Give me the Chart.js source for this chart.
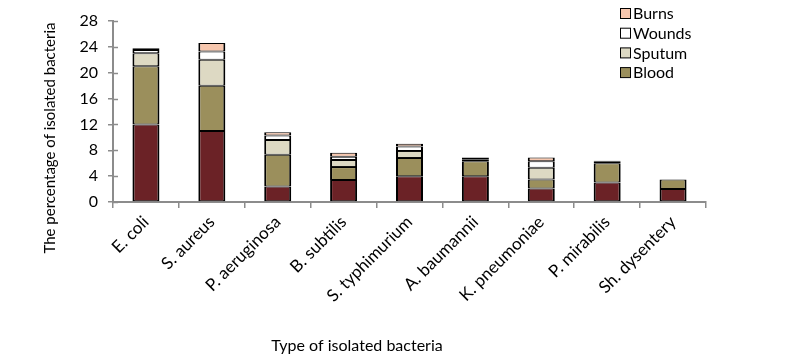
<!DOCTYPE html>
<html>
<head>
<meta charset="utf-8">
<script src="https://cdn.jsdelivr.net/npm/chart.js@4.4.0/dist/chart.umd.min.js"></script>
<style>
  html, body { margin: 0; padding: 0; background: #fff; }
  #wrap { width: 797px; height: 356px; }
</style>
</head>
<body>
<div id="wrap"><canvas id="chart"></canvas></div>
<script>
const categories = ["E. coli", "S. aureus", "P. aeruginosa", "B. subtilis", "S. typhimurium",
  "A. baumannii", "K. pneumoniae", "P. mirabilis", "Sh. dysentery"];
// bottom series has no legend entry in the original
const urine  = [12, 11, 2.4, 3.4, 4.0, 4.0, 2.1, 3.0, 2.0];
const blood  = [9, 7, 4.9, 2.0, 2.8, 2.3, 1.4, 3.0, 1.5];
const sputum = [2, 4, 2.3, 1.1, 1.1, 0.3, 1.8, 0.2, 0];
const wounds = [0.5, 1.3, 0.7, 0.5, 0.7, 0.2, 1.0, 0.1, 0];
const burns  = [0.3, 1.3, 0.5, 0.6, 0.4, 0.1, 0.6, 0.1, 0];
const yMax = 28;
const yStep = 4;
const legendNames = ["Burns", "Wounds", "Sputum", "Blood"];

const FONT = "Lato, 'Open Sans', sans-serif";
const AXIS = "#8c8c8c";

const mk = (label, data, color) => ({
  label,
  data: data.map(v => (v === 0 ? null : v)), // no empty segments
  backgroundColor: color, borderColor: "#000",
  borderWidth: { top: 1, bottom: 1, left: 2, right: 2 },
  borderSkipped: false, categoryPercentage: 1, barPercentage: 0.41
});

const datasets = [
  mk("Urine", urine, "#6b2226"),
  mk("Blood", blood, "#9b8f5c"),
  mk("Sputum", sputum, "#ddd9c3"),
  mk("Wounds", wounds, "#ffffff"),
  mk("Burns", burns, "#f7c7ae")
];

const extras = {
  id: "extras",
  afterDraw(chart) {
    const { ctx, chartArea, scales } = chart;
    ctx.save();
    // inner half of the y tick marks
    ctx.strokeStyle = AXIS;
    ctx.lineWidth = 1.5;
    for (let v = 0; v <= yMax; v += yStep) {
      const y = Math.round(scales.y.getPixelForValue(v)) + 0.5;
      ctx.beginPath();
      ctx.moveTo(chartArea.left, y);
      ctx.lineTo(chartArea.left + 5, y);
      ctx.stroke();
    }
    // axis titles
    ctx.fillStyle = "#000";
    ctx.font = "16px " + FONT;
    ctx.textAlign = "center";
    ctx.textBaseline = "middle";
    ctx.fillText("Type of isolated bacteria", 357, 346);
    ctx.font = "15px " + FONT;
    ctx.translate(50, 138);
    ctx.rotate(-Math.PI / 2);
    ctx.fillText("The percentage of isolated bacteria", 0, 0);
    ctx.setTransform(1, 0, 0, 1, 0, 0);
    // legend
    ctx.textAlign = "left";
    ctx.font = "16px " + FONT;
    legendNames.forEach((name, i) => {
      const ds = chart.data.datasets.find(d => d.label === name);
      const y = 14 + i * 19.7;
      ctx.fillStyle = ds.backgroundColor;
      ctx.fillRect(620.5, y - 5.5, 10, 10);
      ctx.strokeStyle = "#000";
      ctx.lineWidth = 1;
      ctx.strokeRect(620.5, y - 5.5, 10, 10);
      ctx.fillStyle = "#000";
      ctx.fillText(name, 633, y);
    });
    ctx.restore();
  }
};

new Chart(document.getElementById("chart"), {
  type: "bar",
  data: { labels: categories, datasets },
  options: {
    responsive: true,
    maintainAspectRatio: false,
    animation: false,
    layout: { padding: { top: 21, right: 91, left: 0, bottom: 0 } },
    plugins: { legend: { display: false }, tooltip: { enabled: false } },
    scales: {
      x: {
        stacked: true,
        afterFit: s => { s.height = 154; },
        grid: { display: true, drawOnChartArea: false, offset: true, color: AXIS, lineWidth: 1.5, tickLength: 6 },
        border: { color: AXIS, width: 2 },
        ticks: { color: "#000", font: { family: FONT, size: 17 }, minRotation: 45, maxRotation: 45, padding: 4 }
      },
      y: {
        stacked: true,
        min: 0, max: yMax,
        afterFit: s => { s.width = 113; },
        grid: { display: true, drawOnChartArea: false, color: AXIS, lineWidth: 1.5, tickLength: 5 },
        border: { color: AXIS, width: 2 },
        ticks: { stepSize: yStep, color: "#000", font: { family: FONT, size: 16 }, padding: 10 }
      }
    }
  },
  plugins: [extras]
});
</script>
</body>
</html>
